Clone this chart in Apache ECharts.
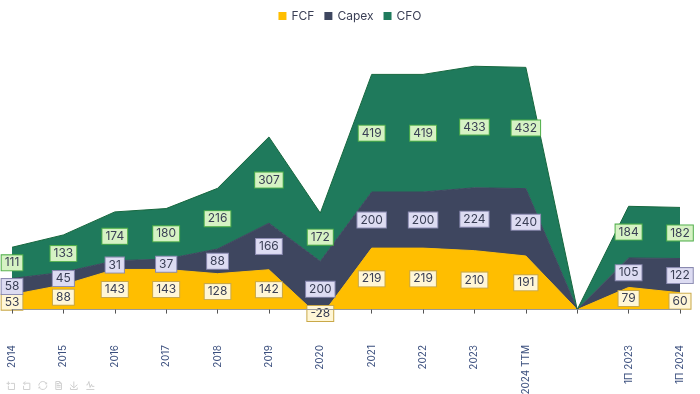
<!DOCTYPE html>
<html>
<head>
<meta charset="utf-8">
<script src="https://cdn.jsdelivr.net/npm/echarts@6/dist/echarts.min.js"></script>
<style>html,body{margin:0;padding:0;background:#fff}#c{width:700px;height:394px}</style>
</head>
<body>
<div id="c"></div>
<script>
const categories = ['2014','2015','2016','2017','2018','2019','2020','2021','2022','2023','2024 TTM','','1П 2023','1П 2024'];
const fcf   = [53, 88, 143, 143, 128, 142, -28, 219, 219, 210, 191, 0, 79, 60];
const capex = [58, 45, 31, 37, 88, 166, 200, 200, 200, 224, 240, 0, 105, 122];
const cfo   = [111, 133, 174, 180, 216, 307, 172, 419, 419, 433, 432, 0, 184, 182];

const FONT = 'Inter';
const colors = { FCF: '#FFBE00', Capex: '#3E465F', CFO: '#1F7A5C' };
const labelStyles = {
  FCF:   { bg: '#FFF6D6', border: '#C9A848' },
  Capex: { bg: '#DDDCF2', border: '#8A8AB0' },
  CFO:   { bg: '#D6F2C4', border: '#4FAE4A' }
};
const lineColors = { FCF: '#FFBE00', Capex: '#3E465F', CFO: '#17683F' };

function labelData(arr) { return arr.map((v, i) => categories[i] === '' ? null : v); }

const seriesDefs = [['FCF', fcf], ['Capex', capex], ['CFO', cfo]];
const series = [];
seriesDefs.forEach(([name, data]) => {
  series.push({
    name, type: 'line', stack: 'area', stackStrategy: 'all', data,
    symbol: 'none', smooth: false,
    lineStyle: { color: lineColors[name], width: 1 },
    itemStyle: { color: colors[name] },
    areaStyle: { color: colors[name], opacity: 1 },
    z: 2
  });
});
seriesDefs.forEach(([name, data]) => {
  series.push({
    name: name + '_lbl', type: 'bar', stack: 'lbl', stackStrategy: 'all', data: labelData(data),
    barWidth: 1, itemStyle: { color: 'rgba(0,0,0,0)' },
    silent: true, z: 5,
    label: {
      show: true, position: 'inside',
      color: '#3A3F55', fontFamily: FONT, fontSize: 12,
      backgroundColor: labelStyles[name].bg,
      borderColor: labelStyles[name].border, borderWidth: 1,
      padding: [2, 3, 1, 3]
    }
  });
});

const chart = echarts.init(document.getElementById('c'));
chart.setOption({
  animation: false,
  backgroundColor: '#fff',
  legend: {
    data: ['FCF', 'Capex', 'CFO'],
    top: 5, left: 'center', icon: 'rect', itemWidth: 8, itemHeight: 8, itemGap: 10,
    textStyle: { fontFamily: FONT, fontSize: 12, color: '#3A3F55' }
  },
  toolbox: {
    show: true, left: 4, bottom: 2, itemSize: 8, itemGap: 4, padding: 0,
    iconStyle: { borderColor: '#d0d0d0' },
    feature: { dataZoom: {}, restore: {}, dataView: { readOnly: true }, saveAsImage: {}, magicType: { type: ['line'] } }
  },
  grid: { left: 12, right: 20, top: 57, bottom: 76, outerBoundsMode: 'none', containLabel: false },
  xAxis: {
    type: 'category', data: categories, boundaryGap: false,
    axisLine: { lineStyle: { color: '#999' } },
    axisTick: { show: true, length: 4, lineStyle: { color: '#555' } },
    axisLabel: { rotate: 90, margin: 27, interval: 0, fontFamily: FONT, fontSize: 10, color: '#3B4F7E' },
    z: 10
  },
  yAxis: { type: 'value', min: -30, max: 900, show: false },
  series
});
</script>
</body>
</html>
